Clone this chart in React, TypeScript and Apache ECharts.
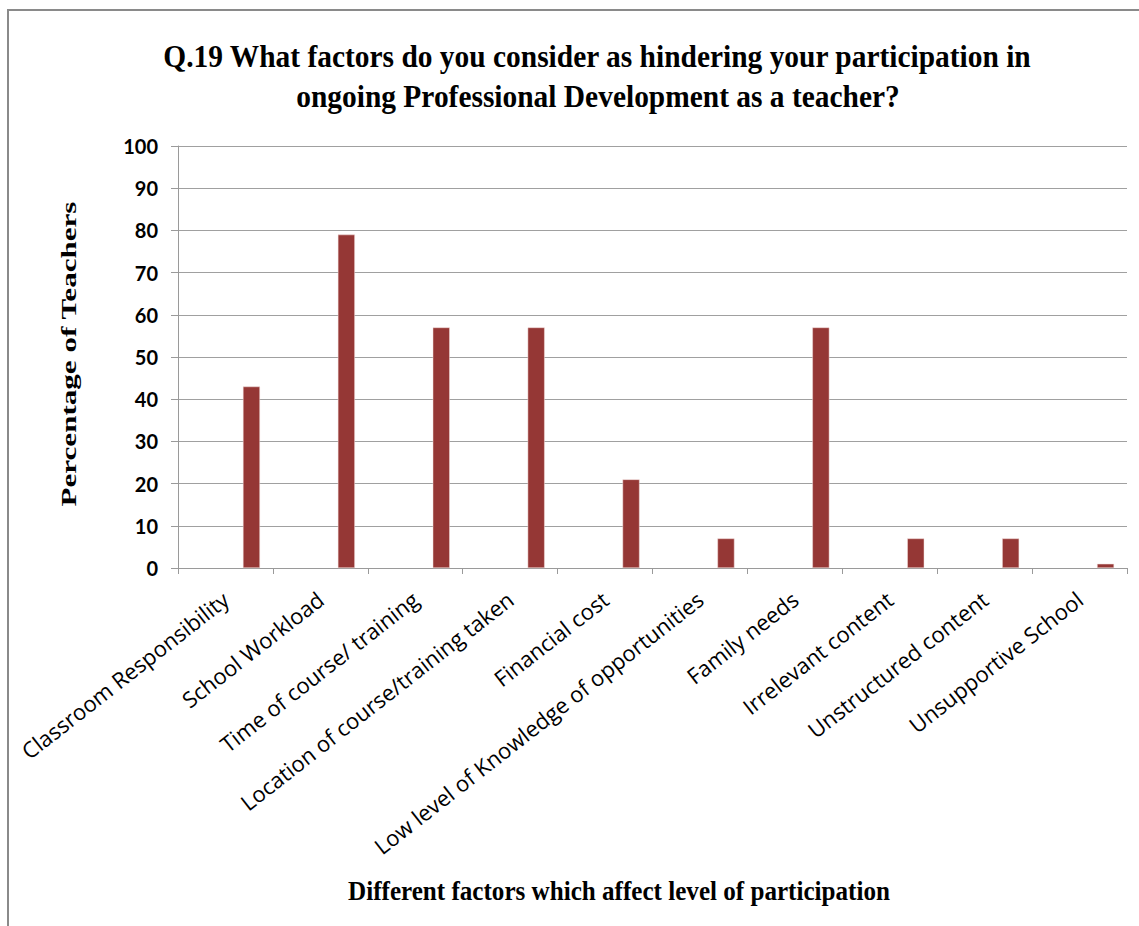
import React, { useEffect, useRef } from "react";
import * as echarts from "echarts";

const categories = [
  "Classroom Responsibility",
  "School Workload",
  "Time of course/ training",
  "Location of course/training taken",
  "Financial cost",
  "Low level of Knowledge of opportunities",
  "Family needs",
  "Irrelevant content",
  "Unstructured content",
  "Unsupportive School",
];
const percentages = [43, 79, 57, 57, 21, 7, 57, 7, 7, 1];
const emptySeries = categories.map(() => null);
const titleLines = [
  "Q.19 What factors do you consider as hindering your participation in",
  "ongoing Professional Development as a teacher?",
];
const yAxisTitle = "Percentage of Teachers";
const xAxisTitle = "Different factors which affect level of participation";

export default function App() {
  const ref = useRef<HTMLDivElement>(null);
  useEffect(() => {
    if (!ref.current) return;
    const chart = echarts.init(ref.current, null, { renderer: "svg" });
    chart.setOption({
      animation: false,
      backgroundColor: "#ffffff",
      grid: { left: 178, right: 12, top: 146, bottom: 358 },
      xAxis: {
        type: "category",
        data: categories,
        axisLine: { show: true, lineStyle: { color: "#9a9a9a", width: 1 } },
        axisTick: { show: true, length: 6, lineStyle: { color: "#9a9a9a" } },
        axisLabel: {
          interval: 0,
          rotate: 38,
          margin: 28,
          fontFamily: "Open Sans",
          fontSize: 22,
          color: "#000",
        },
        splitLine: { show: false },
      },
      yAxis: {
        type: "value",
        min: 0,
        max: 100,
        interval: 10,
        axisLine: { show: true, lineStyle: { color: "#9a9a9a", width: 1 } },
        axisTick: { show: true, length: 7, lineStyle: { color: "#9a9a9a" } },
        axisLabel: {
          margin: 20,
          fontFamily: "Lato",
          fontWeight: "bold",
          fontSize: 20,
          color: "#000",
        },
        splitLine: { show: true, lineStyle: { color: "#a0a0a0", width: 1 } },
      },
      series: [
        {
          type: "bar",
          data: emptySeries,
          barWidth: 17,
          barGap: "206%",
          itemStyle: { color: "#4f81bd" },
        },
        {
          type: "bar",
          data: percentages,
          barWidth: 17,
          barGap: "206%",
          itemStyle: { color: "#953735", borderColor: "#f2dcdb", borderWidth: 0.5 },
        },
      ],
      graphic: [
        {
          type: "rect",
          shape: { x: 8, y: 10, width: 1200, height: 1000 },
          style: { fill: "none", stroke: "#8a8a8a", lineWidth: 2 },
          silent: true,
        },
        {
          type: "text",
          x: 597,
          y: 57,
          scaleX: 0.92,
          style: {
            text: titleLines[0],
            font: 'bold 32px "Liberation Serif"',
            fill: "#000",
            textAlign: "center",
            textVerticalAlign: "middle",
          },
        },
        {
          type: "text",
          x: 598,
          y: 97,
          scaleX: 0.92,
          style: {
            text: titleLines[1],
            font: 'bold 32px "Liberation Serif"',
            fill: "#000",
            textAlign: "center",
            textVerticalAlign: "middle",
          },
        },
        {
          type: "text",
          x: 69,
          y: 354,
          rotation: Math.PI / 2,
          scaleX: 1.48,
          style: {
            text: yAxisTitle,
            font: 'bold 21px "Liberation Serif"',
            fill: "#000",
            textAlign: "center",
            textVerticalAlign: "middle",
          },
        },
        {
          type: "text",
          x: 619,
          y: 891,
          scaleX: 0.93,
          style: {
            text: xAxisTitle,
            font: 'bold 27px "Liberation Serif"',
            fill: "#000",
            textAlign: "center",
            textVerticalAlign: "middle",
          },
        },
      ],
    });
    return () => chart.dispose();
  }, []);
  return (
    <div
      ref={ref}
      style={{ position: "fixed", left: 0, top: 0, width: 1139, height: 926 }}
    />
  );
}
